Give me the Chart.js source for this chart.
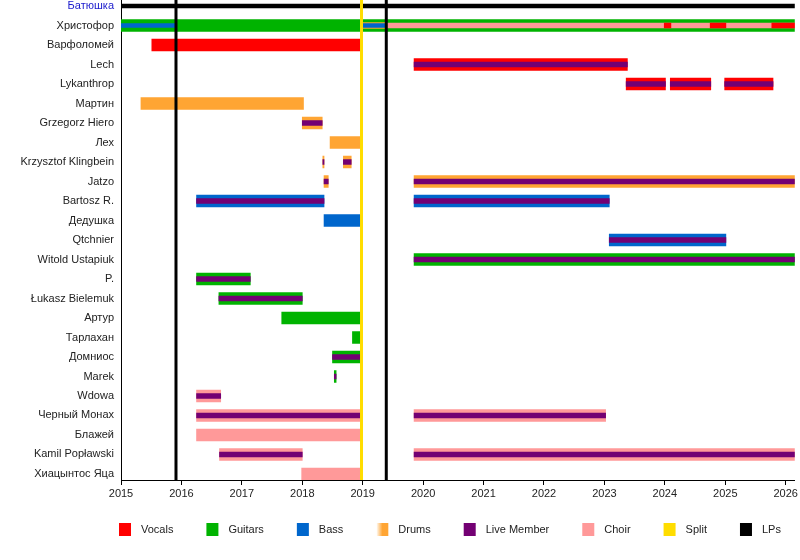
<!DOCTYPE html>
<html>
<head>
<meta charset="utf-8">
<script src="https://cdn.jsdelivr.net/npm/chart.js@4.4.1/dist/chart.umd.min.js"></script>
<style>
  body { margin: 0; background: #fff; }
</style>
</head>
<body>
<canvas id="timeline" width="800" height="560"></canvas>
<script>
/* Батюшка - состав группы по годам */
var members = ['Батюшка', 'Христофор', 'Варфоломей', 'Lech', 'Lykanthrop', 'Мартин',
  'Grzegorz Hiero', 'Лех', 'Krzysztof Klingbein', 'Jatzo', 'Bartosz R.', 'Дедушка',
  'Qtchnier', 'Witold Ustapiuk', 'P.', 'Łukasz Bielemuk', 'Артур', 'Тарлахан',
  'Домниос', 'Marek', 'Wdowa', 'Черный Монах', 'Блажей', 'Kamil Popławski', 'Хиацынтос Яца'];
var years = [2015, 2016, 2017, 2018, 2019, 2020, 2021, 2022, 2023, 2024, 2025, 2026];
var timelineStart = 2015;
var timelineEnd = 2026.15;

// [member, from, to]
var band = [['Батюшка', timelineStart, timelineEnd]];
var vocals = [
  ['Варфоломей', 2015.51, 2018.96],
  ['Lech', 2019.85, 2023.38],
  ['Lykanthrop', 2023.36, 2024.01], ['Lykanthrop', 2024.09, 2024.76], ['Lykanthrop', 2024.99, 2025.79]
];
var guitars = [
  ['Христофор', 2015, timelineEnd],
  ['Witold Ustapiuk', 2019.85, timelineEnd],
  ['P.', 2016.25, 2017.14],
  ['Łukasz Bielemuk', 2016.62, 2018.0],
  ['Артур', 2017.66, 2018.96],
  ['Тарлахан', 2018.83, 2018.96],
  ['Домниос', 2018.5, 2018.96],
  ['Marek', 2018.53, 2018.56]
];
var bass = [
  ['Bartosz R.', 2016.25, 2018.36], ['Bartosz R.', 2019.85, 2023.08],
  ['Дедушка', 2018.36, 2018.96],
  ['Qtchnier', 2023.08, 2025.01]
];
var drums = [
  ['Мартин', 2015.33, 2018.02],
  ['Grzegorz Hiero', 2018.0, 2018.33],
  ['Лех', 2018.46, 2018.96],
  ['Krzysztof Klingbein', 2018.34, 2018.36], ['Krzysztof Klingbein', 2018.68, 2018.81],
  ['Jatzo', 2018.36, 2018.43], ['Jatzo', 2019.85, timelineEnd]
];
var choir = [
  ['Wdowa', 2016.25, 2016.65],
  ['Черный Монах', 2016.25, 2018.96], ['Черный Монах', 2019.85, 2023.02],
  ['Блажей', 2016.25, 2018.96],
  ['Kamil Popławski', 2016.63, 2018.0], ['Kamil Popławski', 2019.85, timelineEnd],
  ['Хиацынтос Яца', 2017.99, 2018.96]
];
var live = [
  ['Lech', 2019.85, 2023.38],
  ['Lykanthrop', 2023.36, 2024.01], ['Lykanthrop', 2024.09, 2024.76], ['Lykanthrop', 2024.99, 2025.79],
  ['Grzegorz Hiero', 2018.0, 2018.33],
  ['Krzysztof Klingbein', 2018.34, 2018.36], ['Krzysztof Klingbein', 2018.68, 2018.81],
  ['Jatzo', 2018.36, 2018.43], ['Jatzo', 2019.85, timelineEnd],
  ['Bartosz R.', 2016.25, 2018.36], ['Bartosz R.', 2019.85, 2023.08],
  ['Qtchnier', 2023.08, 2025.01],
  ['Witold Ustapiuk', 2019.85, timelineEnd],
  ['P.', 2016.25, 2017.14],
  ['Łukasz Bielemuk', 2016.62, 2018.0],
  ['Домниос', 2018.5, 2018.96],
  ['Marek', 2018.53, 2018.56],
  ['Wdowa', 2016.25, 2016.65],
  ['Черный Монах', 2016.25, 2018.96], ['Черный Монах', 2019.85, 2023.02],
  ['Kamil Popławski', 2016.63, 2018.0], ['Kamil Popławski', 2019.85, timelineEnd]
];
// second roles of Христофор (thin stripes)
var bassSecond = [['Христофор', 2015, 2015.89], ['Христофор', 2019.0, 2019.39]];
var drumsSecond = [['Христофор', 2019.0, 2019.39]];
var choirSecond = [['Христофор', 2019.39, timelineEnd]];
var vocalsSecond = [['Христофор', 2023.99, 2024.10], ['Христофор', 2024.75, 2025.01], ['Христофор', 2025.77, timelineEnd]];

var lps = [2015.91, 2019.39];
var splits = [2018.98];

var legendLabels = ['Vocals', 'Guitars', 'Bass', 'Drums', 'Live Member', 'Choir', 'Split', 'LPs'];

var colors = {
  vocals: '#ff0000', guitars: '#00b300', bass: '#0066cc', drums: '#ffa533',
  live: '#730073', choir: '#ff9999', split: '#ffdd00', lps: '#000000'
};
var legendColors = [colors.vocals, colors.guitars, colors.bass, colors.drums,
  colors.live, colors.choir, colors.split, colors.lps];
var font = "'Liberation Sans', Arial, sans-serif";

function toPoints(rows) {
  return rows.map(function (r) { return { x: [r[1], r[2]], y: members.indexOf(r[0]) }; });
}
function bars(label, rows, color, thickness, order) {
  return {
    label: label, data: toPoints(rows), backgroundColor: color,
    barThickness: thickness, grouped: false, borderWidth: 0, borderSkipped: false, order: order
  };
}

/* вертикальные линии: сплит и альбомы */
var markerLines = {
  id: 'markerLines',
  afterDatasetsDraw: function (chart) {
    var x = chart.scales.x, ctx = chart.ctx, area = chart.chartArea;
    ctx.save();
    ctx.lineWidth = 3;
    [[splits, colors.split], [lps, colors.lps]].forEach(function (set) {
      ctx.strokeStyle = set[1];
      set[0].forEach(function (v) {
        var px = x.getPixelForValue(v);
        ctx.beginPath();
        ctx.moveTo(px, area.top);
        ctx.lineTo(px, area.bottom);
        ctx.stroke();
      });
    });
    ctx.restore();
  }
};

/* легенда внизу */
var bottomLegend = {
  id: 'bottomLegend',
  afterDraw: function (chart) {
    var ctx = chart.ctx, area = chart.chartArea;
    var x = area.left - 2, y = area.bottom + 50;
    ctx.save();
    ctx.font = '11px ' + font;
    ctx.textBaseline = 'middle';
    legendLabels.forEach(function (text, i) {
      if (text === 'Drums') {
        var g = ctx.createLinearGradient(x, 0, x + 12, 0);
        g.addColorStop(0, 'rgba(255,165,51,0)');
        g.addColorStop(0.5, legendColors[i]);
        ctx.fillStyle = g;
      } else {
        ctx.fillStyle = legendColors[i];
      }
      ctx.fillRect(x, y - 7, 12, 13);
      ctx.fillStyle = '#222';
      ctx.fillText(text, x + 22, y);
      x += 22 + ctx.measureText(text).width + 33;
    });
    ctx.restore();
  }
};

new Chart(document.getElementById('timeline'), {
  type: 'bar',
  data: {
    datasets: [
      bars('Vocals2', vocalsSecond, colors.vocals, 5, 0),
      bars('Live', live, colors.live, 5, 1),
      bars('Bass2', bassSecond, colors.bass, 4, 1),
      bars('Choir2', choirSecond, colors.choir, 5, 1),
      bars('Drums2', drumsSecond, colors.drums, 6, 2),
      bars('Band', band, colors.lps, 4, 3),
      bars('Vocals', vocals, colors.vocals, 12, 3),
      bars('Guitars', guitars, colors.guitars, 12, 3),
      bars('Bass', bass, colors.bass, 12, 3),
      bars('Drums', drums, colors.drums, 12, 3),
      bars('Choir', choir, colors.choir, 12, 3)
    ]
  },
  options: {
    indexAxis: 'y',
    responsive: false,
    animation: false,
    layout: { padding: { left: 0, right: 4, top: 0, bottom: 60 } },
    scales: {
      x: {
        type: 'linear',
        min: timelineStart,
        max: timelineEnd,
        afterBuildTicks: function (s) { s.ticks = years.map(function (v) { return { value: v }; }); },
        afterFit: function (s) { s.height = 20; },
        ticks: {
          callback: function (v) { return String(v); },
          font: { family: font, size: 11 },
          color: '#222',
          padding: 2,
          maxRotation: 0
        },
        grid: { drawOnChartArea: false, tickLength: 5, color: '#000' },
        border: { color: '#000', width: 1 }
      },
      y: {
        type: 'linear',
        reverse: true,
        offset: false,
        min: -0.31,
        max: 24.31,
        afterBuildTicks: function (s) { s.ticks = members.map(function (m, i) { return { value: i }; }); },
        afterFit: function (s) { s.width = 121; s.paddingTop = 0; s.paddingBottom = 0; },
        ticks: {
          autoSkip: false,
          callback: function (v) { return members[v]; },
          font: { family: font, size: 11 },
          color: function (c) { return c.index === 0 ? '#1a1acc' : '#222'; },
          padding: 7
        },
        grid: { drawOnChartArea: false, drawTicks: false, offset: false, color: '#000' },
        border: { color: '#000', width: 1 }
      }
    },
    plugins: {
      legend: { display: false },
      tooltip: { enabled: false }
    }
  },
  plugins: [markerLines, bottomLegend]
});
</script>
</body>
</html>
